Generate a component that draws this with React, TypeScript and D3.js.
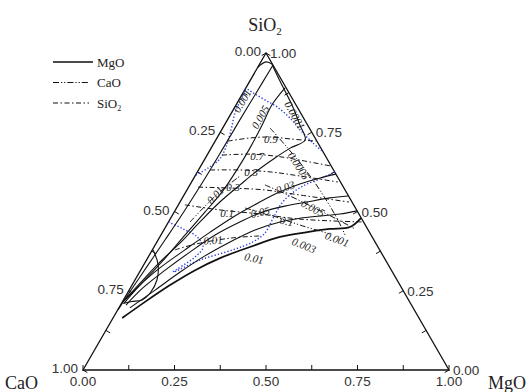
import React from "react";
import * as d3 from "d3";

// ---------- data (compositions as [MgO, SiO2]; CaO = 1 - MgO - SiO2) ----------
const tickValues = [0, 0.25, 0.5, 0.75, 1];
const tickLabels = ["0.00", "0.25", "0.50", "0.75", "1.00"];
const minorTicks = [0, 0.125, 0.25, 0.375, 0.5, 0.625, 0.75, 0.875, 1];

// MgO iso-activity (solid)
const mgoTopArc = [[0, 0.955], [0.014, 0.972], [0.036, 0.964]];
const mgoLeftBand = [[0.038, 0.96], [0.036, 0.87], [0.034, 0.79], [0.033, 0.7], [0.031, 0.6], [0.026, 0.5], [0.019, 0.41], [0.012, 0.33], [0.005, 0.25], [0.001, 0.19]];
const mgoCurve1 = [[0.107, 0.89], [0.098, 0.836], [0.103, 0.773], [0.106, 0.7], [0.105, 0.637], [0.099, 0.562], [0.084, 0.498], [0.066, 0.426], [0.048, 0.353], [0.027, 0.284], [0.004, 0.221]];
const mgoCurve2 = [[0.036, 0.962], [0.094, 0.899], [0.153, 0.836], [0.206, 0.773], [0.244, 0.726], [0.216, 0.7], [0.19, 0.669], [0.163, 0.631], [0.137, 0.584], [0.109, 0.53], [0.086, 0.467], [0.065, 0.401], [0.04, 0.341], [0.019, 0.274], [0.002, 0.215]];
const mgoCurve3 = [[0.382, 0.618], [0.345, 0.606], [0.299, 0.587], [0.257, 0.562], [0.215, 0.527], [0.172, 0.486], [0.13, 0.435], [0.089, 0.379], [0.049, 0.322], [0.022, 0.268], [0.007, 0.211]];
const mgoCurve4 = [[0.45, 0.549], [0.403, 0.543], [0.347, 0.53], [0.293, 0.517], [0.24, 0.498], [0.195, 0.467], [0.148, 0.426], [0.106, 0.372], [0.067, 0.315], [0.034, 0.259], [0.015, 0.205]];
const mgoCurve5 = [[0.498, 0.502], [0.456, 0.492], [0.405, 0.486], [0.353, 0.479], [0.305, 0.467], [0.249, 0.442], [0.2, 0.404], [0.153, 0.36], [0.111, 0.309], [0.071, 0.252], [0.03, 0.196]];
const mgoCurve6 = [[0.52, 0.479], [0.504, 0.451], [0.452, 0.445], [0.395, 0.435], [0.328, 0.42], [0.262, 0.388], [0.198, 0.353], [0.149, 0.315], [0.104, 0.268], [0.062, 0.215], [0.025, 0.164]];
const mgoLens = [[0.002, 0.379], [0.038, 0.334], [0.06, 0.284], [0.062, 0.243], [0.051, 0.221], [0.025, 0.216], [0.005, 0.21]];

// SiO2 iso-activity
const sio2_09 = [[0.035, 0.722], [0.09, 0.732], [0.144, 0.735], [0.201, 0.729], [0.276, 0.722]];
const sio2_07 = [[0.041, 0.678], [0.116, 0.681], [0.187, 0.675], [0.262, 0.662], [0.353, 0.644]];
const sio2_05 = [[0.032, 0.631], [0.114, 0.631], [0.199, 0.625], [0.287, 0.612], [0.4, 0.593]];
const sio2_03 = [[0.026, 0.577], [0.115, 0.574], [0.213, 0.568], [0.317, 0.552], [0.462, 0.53]];
const sio2_01 = [[0.018, 0.521], [0.122, 0.505], [0.238, 0.492], [0.355, 0.476], [0.529, 0.467]];
const sio2_001 = [[0.062, 0.379], [0.108, 0.397], [0.194, 0.416], [0.272, 0.423]];

// CaO iso-activity
const cao_0005 = [[0.13, 0.763], [0.197, 0.71], [0.267, 0.653], [0.339, 0.59], [0.406, 0.527], [0.46, 0.473], [0.503, 0.426]];
const cao_005 = [[0.205, 0.584], [0.291, 0.549], [0.371, 0.514], [0.449, 0.479], [0.521, 0.445]];
const cao_01 = [[0.187, 0.511], [0.267, 0.489], [0.365, 0.457], [0.461, 0.429]];
const cao_001 = [[0.059, 0.467], [0.075, 0.517], [0.096, 0.568], [0.123, 0.612]];

// boundaries (blue dotted)
const blueUpper = [[0.001, 0.615], [0.023, 0.637], [0.041, 0.666], [0.039, 0.703], [0.025, 0.76], [0.01, 0.81], [0.004, 0.86], [0.003, 0.886], [0.028, 0.874], [0.071, 0.852], [0.115, 0.83], [0.168, 0.795], [0.215, 0.757], [0.266, 0.719], [0.312, 0.688]];
const blueLower = [[0.0, 0.467], [0.051, 0.445], [0.102, 0.42], [0.134, 0.388], [0.128, 0.357], [0.092, 0.309], [0.146, 0.347], [0.22, 0.379], [0.262, 0.404], [0.281, 0.432], [0.28, 0.479], [0.28, 0.527], [0.292, 0.558], [0.315, 0.584], [0.346, 0.603], [0.376, 0.625]];

// contour labels
const labelText = ["0.001", "0.005", "0.0001", "0.9", "0.7", "0.5", "0.0005", "0.3", "0.03", "0.01", "0.005", "0.1", "0.05", "0.1", "0.01", "0.001", "0.003", "0.01"];
const labelPos = [[0.01, 0.849], [0.085, 0.798], [0.177, 0.804], [0.149, 0.729], [0.138, 0.675], [0.147, 0.625], [0.268, 0.644], [0.122, 0.577], [0.264, 0.577], [0.085, 0.552], [0.373, 0.511], [0.146, 0.495], [0.235, 0.498], [0.322, 0.47], [0.15, 0.41], [0.488, 0.413], [0.407, 0.394], [0.291, 0.353]];
const labelAngle = [-60, -60, 60, 0, 0, 0, 57, 0, -20, -45, 28, 0, -12, 12, -5, 20, 22, 12];

const legendNames = ["MgO", "CaO", "SiO"];

// ---------- layout ----------
const W = 531, H = 392;
const X0 = 83, X1 = 449, Y0 = 370;
const tri = ((X1 - X0) * Math.sqrt(3)) / 2;
const xScale = d3.scaleLinear().domain([0, 1]).range([X0, X1]);
const yScale = d3.scaleLinear().domain([0, 1]).range([Y0, Y0 - tri]);
const proj = (d: number[]) => [xScale(d[0] + d[1] / 2), yScale(d[1])];

const lineGen = d3
  .line<number[]>()
  .x((d) => proj(d)[0])
  .y((d) => proj(d)[1])
  .curve(d3.curveCatmullRom.alpha(0.5));

const DASH_CAO = "6,2,1.2,2,1.2,2";
const DASH_SIO2 = "5,2.5,1.5,2.5";
const INK = "#111";

export default function App() {
  const A = proj([0, 0]);
  const B = proj([1, 0]);
  const C = proj([0, 1]);
  const n = 5;
  const solid = [mgoLeftBand, mgoCurve1, mgoCurve2, mgoCurve3, mgoCurve4, mgoCurve5, mgoLens, mgoTopArc];
  const sio2 = [sio2_09, sio2_07, sio2_05, sio2_03, sio2_01, sio2_001];
  const cao = [cao_0005, cao_005, cao_01, cao_001];
  return (
    <svg width={W} height={H} style={{ position: "absolute", left: 0, top: 0, background: "#fff" }} fontFamily="Liberation Sans, Arial, sans-serif">
      {/* triangle frame */}
      <path d={`M${A[0]},${A[1]}L${B[0]},${B[1]}L${C[0]},${C[1]}Z`} fill="none" stroke={INK} strokeWidth={1.3} />
      {/* ticks */}
      {minorTicks.map((t, i) => {
        const pb = proj([t, 0]);
        const pr = proj([1 - t, t]);
        const pl = proj([0, 1 - t]);
        return (
          <g key={"t" + i} stroke={INK} strokeWidth={1}>
            <line x1={pb[0]} y1={pb[1]} x2={pb[0]} y2={pb[1] - n} />
            <line x1={pr[0]} y1={pr[1]} x2={pr[0] - n * 0.866} y2={pr[1] + n * 0.5} />
            <line x1={pl[0]} y1={pl[1]} x2={pl[0] + n * 0.866} y2={pl[1] + n * 0.5} />
          </g>
        );
      })}
      {/* tick labels */}
      {tickValues.map((t, i) => {
        const pb = proj([t, 0]);
        const pr = proj([1 - t, t]);
        const pl = proj([0, 1 - t]);
        return (
          <g key={"l" + i} fontSize={13.5} fill="#333">
            <text x={pb[0]} y={386} textAnchor="middle">{tickLabels[i]}</text>
            <text x={pr[0] + 4} y={pr[1] + 5} textAnchor="start">{tickLabels[i]}</text>
            <text x={pl[0] - 5} y={pl[1] + 3} textAnchor="end">{tickLabels[i]}</text>
          </g>
        );
      })}
      {/* axis titles */}
      <g fontFamily="Liberation Serif, Times New Roman, serif" fontSize={18} fill="#222">
        <text x={C[0] - 1} y={31} textAnchor="middle">SiO<tspan fontSize={11} dy={4}>2</tspan></text>
        <text x={5} y={389}>CaO</text>
        <text x={488} y={389}>MgO</text>
      </g>
      {/* blue boundaries */}
      {[blueUpper, blueLower].map((d, i) => (
        <path key={"b" + i} d={lineGen(d) || ""} fill="none" stroke="#2a3be0" strokeWidth={1.4} strokeDasharray="1.3,2" />
      ))}
      {/* SiO2 lines */}
      {sio2.map((d, i) => (
        <path key={"s" + i} d={lineGen(d) || ""} fill="none" stroke={INK} strokeWidth={1} strokeDasharray={DASH_SIO2} />
      ))}
      {/* CaO lines */}
      {cao.map((d, i) => (
        <path key={"c" + i} d={lineGen(d) || ""} fill="none" stroke={INK} strokeWidth={1} strokeDasharray={DASH_CAO} />
      ))}
      {/* MgO lines */}
      {solid.map((d, i) => (
        <path key={"m" + i} d={lineGen(d) || ""} fill="none" stroke={INK} strokeWidth={1.1} />
      ))}
      <path d={lineGen(mgoCurve6) || ""} fill="none" stroke={INK} strokeWidth={1.7} />
      {/* contour labels */}
      <g fontFamily="Liberation Serif, Times New Roman, serif" fontSize={11} fill="#222" fontStyle="italic">
        {labelText.map((t, i) => {
          const p = proj(labelPos[i]);
          return (
            <text key={"cl" + i} x={p[0]} y={p[1]} textAnchor="middle" dominantBaseline="central" transform={`rotate(${labelAngle[i]},${p[0]},${p[1]})`}>
              {t}
            </text>
          );
        })}
      </g>
      {/* legend */}
      <g fontFamily="Liberation Serif, Times New Roman, serif" fontSize={13} fill="#222">
        {legendNames.map((name, i) => {
          const y = 62 + i * 20.5;
          return (
            <g key={"lg" + i}>
              <line x1={53} x2={i === 0 ? 93 : 89} y1={y} y2={y} stroke={INK} strokeWidth={i === 0 ? 1.4 : 1.1} strokeDasharray={i === 0 ? undefined : i === 1 ? DASH_CAO : DASH_SIO2} />
              <text x={97} y={y + 4.5}>
                {name}
                {i === 2 ? <tspan fontSize={8} dy={3}>2</tspan> : null}
              </text>
            </g>
          );
        })}
      </g>
    </svg>
  );
}
